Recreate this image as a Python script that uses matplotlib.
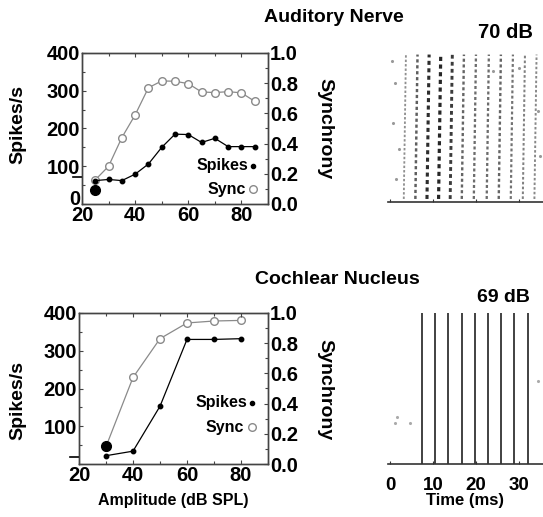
import matplotlib
matplotlib.use("Agg")
import matplotlib.pyplot as plt
import matplotlib.transforms as mtransforms
from matplotlib.ticker import MultipleLocator

plt.rcParams['font.family'] = ['Liberation Sans', 'DejaVu Sans']
plt.rcParams['font.weight'] = 'bold'

# auditory nerve rate / synchrony vs level
an_db = [25, 30, 35, 40, 45, 50, 55, 60, 65, 70, 75, 80, 85]
an_spikes = [62, 65, 62, 79, 106, 150, 185, 184, 163, 174, 152, 152, 152]
an_sync = [0.16, 0.25, 0.44, 0.59, 0.77, 0.815, 0.813, 0.797, 0.742, 0.738, 0.744, 0.736, 0.68]
an_spont = 38      # filled dot at lowest level
an_spont_db = 25
an_dash = 72

# cochlear nucleus rate / synchrony vs level
cn_db = [30, 40, 50, 60, 70, 80]
cn_spikes = [22, 34, 153, 330, 330, 332]
cn_sync = [0.115, 0.573, 0.83, 0.934, 0.947, 0.951]
cn_spont = 47
cn_spont_db = 30
cn_dash = 19

# raster stripes (ms) and how dense each one is
an_stripe_ms = [3.5, 6.2, 8.9, 11.6, 14.3, 17.0, 19.8, 22.8, 25.6, 28.4, 31.2, 33.9]
an_stripe_w = [0.25, 0.6, 0.95, 1.0, 0.85, 0.55, 0.5, 0.5, 0.55, 0.45, 0.35, 0.3]
an_stray_ms = [0.5, 1.2, 0.8, 2.0, 1.5, 24.0, 30.0, 34.5, 35.0]
an_stray_tr = [0.93, 0.78, 0.52, 0.35, 0.15, 0.86, 0.88, 0.6, 0.3]

cn_spike_ms = [7.4, 10.5, 13.6, 16.8, 19.8, 22.9, 25.8, 28.9, 32.0]
cn_stray_ms = [1.6, 1.2, 4.6, 34.5]
cn_stray_tr = [0.31, 0.27, 0.27, 0.55]

W, H = 543, 517
fig = plt.figure(figsize=(W / 100, H / 100), dpi=100)


def box(l, t, r, b):
    return [l / W, 1 - b / H, (r - l) / W, (b - t) / H]


def rate_panel(rect, db, spikes, sync, spont_db, spont, dash, left_ticks,
               spikes_xy, sync_xy, xlabel=None):
    ax = fig.add_axes(rect)
    ax2 = ax.twinx()
    ax.set_xlim(20, 90)
    ax.set_ylim(0, 400)
    ax2.set_ylim(0, 1.0)
    ax.set_xticks([20, 40, 60, 80])
    ax.xaxis.set_minor_locator(MultipleLocator(10))
    ax.set_yticks(left_ticks)
    ax.yaxis.set_minor_locator(MultipleLocator(50))
    ax2.set_yticks([0, 0.2, 0.4, 0.6, 0.8, 1.0])
    ax2.set_yticklabels(['0.0', '0.2', '0.4', '0.6', '0.8', '1.0'])
    ax2.yaxis.set_minor_locator(MultipleLocator(0.1))
    for a in (ax, ax2):
        for s in a.spines.values():
            s.set_color('#444444')
            s.set_linewidth(1.0)
        a.tick_params(which='both', direction='in', color='#444444', width=0.8)
        a.tick_params(which='major', length=3, labelsize=14.5, pad=1.5)
        a.tick_params(which='minor', length=2)
    ax.tick_params(axis='x', which='both', top=True)

    ax2.plot(db, sync, color='#8a8a8a', lw=0.9, marker='o', ms=5.5,
             mfc='white', mec='#8a8a8a', mew=1.0, zorder=2)
    ax.plot(db, spikes, color='black', lw=0.9, marker='o', ms=3.2,
            mfc='black', mec='black', zorder=3)
    ax.set_zorder(ax2.get_zorder() + 1)
    ax.patch.set_visible(False)
    ax.plot([spont_db], [spont], 'o', color='black', ms=7, zorder=4)
    ax.plot([-0.05, 0.0], [dash / 400, dash / 400], color='black', lw=1.2,
            transform=ax.transAxes, clip_on=False)

    ax.text(spikes_xy[0] - 0.027, spikes_xy[1], 'Spikes', transform=ax.transAxes,
            ha='right', va='center', fontsize=11.5, fontweight='bold')
    ax.plot([spikes_xy[0]], [spikes_xy[1]], 'o', color='black', ms=3,
            transform=ax.transAxes)
    ax.text(sync_xy[0] - 0.04, sync_xy[1], 'Sync', transform=ax.transAxes,
            ha='right', va='center', fontsize=11.5, fontweight='bold')
    ax.plot([sync_xy[0]], [sync_xy[1]], 'o', mfc='white', mec='#8a8a8a',
            ms=5.5, mew=1.0, transform=ax.transAxes)
    if xlabel:
        ax.set_xlabel(xlabel, fontsize=11.5, fontweight='bold', labelpad=6)
    return ax


def raster_axes(rect):
    ax = fig.add_axes(rect)
    ax.set_xlim(-0.47, 35.6)
    ax.set_ylim(0, 1)
    for k in ('top', 'right', 'left'):
        ax.spines[k].set_visible(False)
    ax.spines['bottom'].set_color('#333333')
    ax.spines['bottom'].set_linewidth(1.2)
    ax.set_yticks([])
    ax.patch.set_visible(False)
    return ax


ax_an = rate_panel(box(82, 53, 268, 204), an_db, an_spikes, an_sync, an_spont_db,
                   an_spont, an_dash, [0, 100, 200, 300, 400],
                   (0.919, 0.252), (0.919, 0.099))
# lift the "0" a little so it clears the "20" below it
fig.canvas.draw()
zero_lbl = ax_an.get_yticklabels()[0]
zero_lbl.set_transform(zero_lbl.get_transform() +
                       mtransforms.ScaledTranslation(0, 6 / 100, fig.dpi_scale_trans))

rate_panel(box(79, 313, 268, 464), cn_db, cn_spikes, cn_sync, cn_spont_db,
           cn_spont, cn_dash, [100, 200, 300, 400],
           (0.915, 0.404), (0.915, 0.245), xlabel='Amplitude (dB SPL)')

# auditory nerve raster: loosely phase-locked, dotted columns
r1 = raster_axes(box(388, 50, 543, 202))
for t, w in zip(an_stripe_ms, an_stripe_w):
    g = 0.7 - 0.55 * w
    r1.plot([t - 0.3, t + 0.2], [0.02, 0.97], color=(g, g, g),
            lw=1.0 + 1.3 * w, ls=(0, (1.3, 1.1)))
r1.scatter(an_stray_ms, an_stray_tr, s=1.5, color='#999999')
r1.set_xticks([0, 10, 20, 30])
r1.set_xticklabels([])
r1.tick_params(axis='x', direction='in', length=2, color='#333333')
fig.text(505 / W, 1 - 33 / H, '70 dB', ha='center', va='center',
         fontsize=14.5, fontweight='bold')

# cochlear nucleus raster: tightly locked columns
r2 = raster_axes(box(388, 313, 543, 464))
r2.vlines(cn_spike_ms, 0, 1, color='#333333', lw=1.3)
r2.scatter(cn_stray_ms, cn_stray_tr, s=1.5, color='#aaaaaa')
r2.set_xticks([0, 10, 20, 30])
r2.tick_params(axis='x', direction='in', length=2, color='#333333',
               labelsize=13.5, pad=9)
r2.set_xlabel('Time (ms)', fontsize=12, fontweight='bold', labelpad=0)
fig.text(503 / W, 1 - 297 / H, '69 dB', ha='center', va='center',
         fontsize=14, fontweight='bold')

fig.text(334 / W, 1 - 17 / H, 'Auditory Nerve', ha='center', va='center',
         fontsize=14, fontweight='bold')
fig.text(337 / W, 1 - 280 / H, 'Cochlear Nucleus', ha='center', va='center',
         fontsize=14, fontweight='bold')

for yc in (125, 400):
    fig.text(18 / W, 1 - yc / H, 'Spikes/s', rotation=90, ha='center',
             va='center', fontsize=14, fontweight='bold')
for yc in (129, 390):
    fig.text(325 / W, 1 - yc / H, 'Synchrony', rotation=270, ha='center',
             va='center', fontsize=14, fontweight='bold')

fig.savefig('out.png', dpi=100)
